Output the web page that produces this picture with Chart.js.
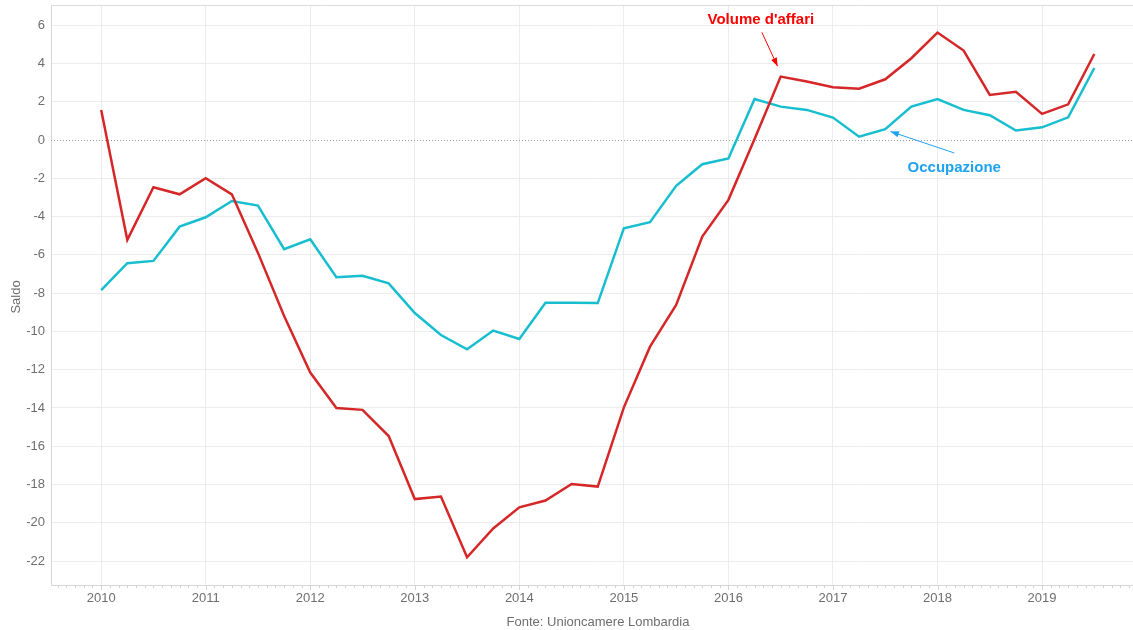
<!DOCTYPE html>
<html>
<head>
<meta charset="utf-8">
<script src="https://cdn.jsdelivr.net/npm/chart.js@4"></script>
<style>
  body { margin: 0; background: #fff; }
  canvas { display: block; }
</style>
</head>
<body>
<canvas id="chart" width="1133" height="630"></canvas>
<script>
// quarterly periods
const quarters = [
  '2010-Q1','2010-Q2','2010-Q3','2010-Q4',
  '2011-Q1','2011-Q2','2011-Q3','2011-Q4',
  '2012-Q1','2012-Q2','2012-Q3','2012-Q4',
  '2013-Q1','2013-Q2','2013-Q3','2013-Q4',
  '2014-Q1','2014-Q2','2014-Q3','2014-Q4',
  '2015-Q1','2015-Q2','2015-Q3','2015-Q4',
  '2016-Q1','2016-Q2','2016-Q3','2016-Q4',
  '2017-Q1','2017-Q2','2017-Q3','2017-Q4',
  '2018-Q1','2018-Q2','2018-Q3','2018-Q4',
  '2019-Q1','2019-Q2','2019-Q3'
];
const volumeAffari = [
  1.57, -5.22, -2.47, -2.84,
  -2.0, -2.84, -5.9, -9.2,
  -12.15, -14.0, -14.1, -15.47,
  -18.76, -18.63, -21.8, -20.3,
  -19.19, -18.84, -17.97, -18.11,
  -13.97, -10.8, -8.62, -5.05,
  -3.13, 0.05, 3.31, 3.05,
  2.75, 2.68, 3.17, 4.27,
  5.61, 4.67, 2.35, 2.52,
  1.36, 1.86, 4.49
];
const occupazione = [
  -7.84, -6.44, -6.32, -4.53,
  -4.04, -3.19, -3.43, -5.71,
  -5.19, -7.17, -7.1, -7.49,
  -9.04, -10.19, -10.94, -9.96,
  -10.4, -8.5, -8.5, -8.52,
  -4.61, -4.3, -2.4, -1.27,
  -0.97, 2.14, 1.74, 1.57,
  1.17, 0.17, 0.56, 1.74,
  2.14, 1.57, 1.29, 0.49,
  0.66, 1.18, 3.76
];
const yearTicks = [2010, 2011, 2012, 2013, 2014, 2015, 2016, 2017, 2018, 2019];
const yTicks = [6, 4, 2, 0, -2, -4, -6, -8, -10, -12, -14, -16, -18, -20, -22];

const quarterToX = (q) => {
  const [y, n] = q.split('-Q');
  return Number(y) + (Number(n) - 1) / 4;
};
const toPoints = (vals) => vals.map((v, i) => ({ x: quarterToX(quarters[i]), y: v }));

const FONT = "'Liberation Sans', Arial, sans-serif";
const GRID = '#ececec';
const TICK_COLOR = '#6e6e6e';

// labels with arrows, placed in data units
const notes = [
  { text: "Volume d'affari", color: '#ff0000', x: 2016.31, y: 6.25, from: [2016.32, 5.62], to: [2016.47, 3.85] },
  { text: 'Occupazione', color: '#1ea3f2', x: 2018.16, y: -1.46, from: [2018.16, -0.68], to: [2017.55, 0.44] }
];

const decorPlugin = {
  id: 'decor',
  beforeDatasetsDraw(chart) {
    const { ctx, chartArea: a, scales: { y } } = chart;
    ctx.save();
    // top frame line
    ctx.strokeStyle = '#dcdcdc';
    ctx.lineWidth = 1;
    ctx.beginPath();
    ctx.moveTo(a.left, a.top + 0.5);
    ctx.lineTo(a.right, a.top + 0.5);
    ctx.stroke();
    // dotted zero line
    const y0 = Math.round(y.getPixelForValue(0)) + 0.5;
    ctx.strokeStyle = '#9a9a9a';
    ctx.setLineDash([1, 2]);
    ctx.beginPath();
    ctx.moveTo(a.left, y0);
    ctx.lineTo(a.right, y0);
    ctx.stroke();
    ctx.restore();
  },
  afterDraw(chart) {
    const { ctx, chartArea: a, scales: { x, y } } = chart;
    ctx.save();
    // monthly minor ticks under the x axis
    ctx.strokeStyle = '#d4d4d4';
    ctx.lineWidth = 1;
    for (let m = Math.ceil(x.min * 12); m <= Math.floor(x.max * 12); m++) {
      const px = Math.round(x.getPixelForValue(m / 12)) + 0.5;
      const len = m % 12 === 0 ? 5 : 3;
      ctx.beginPath();
      ctx.moveTo(px, a.bottom);
      ctx.lineTo(px, a.bottom + len);
      ctx.stroke();
    }
    // axis titles
    ctx.fillStyle = TICK_COLOR;
    ctx.font = '13px ' + FONT;
    ctx.textAlign = 'center';
    ctx.textBaseline = 'middle';
    ctx.fillText('Fonte: Unioncamere Lombardia', (a.left + a.right) / 2 + 6, 622);
    ctx.save();
    ctx.translate(16, 297);
    ctx.rotate(-Math.PI / 2);
    ctx.fillText('Saldo', 0, 0);
    ctx.restore();
    // annotations
    notes.forEach(n => {
      ctx.fillStyle = n.color;
      ctx.strokeStyle = n.color;
      ctx.font = 'bold 15px ' + FONT;
      ctx.fillText(n.text, x.getPixelForValue(n.x), y.getPixelForValue(n.y));
      const x1 = x.getPixelForValue(n.from[0]), y1 = y.getPixelForValue(n.from[1]);
      const x2 = x.getPixelForValue(n.to[0]), y2 = y.getPixelForValue(n.to[1]);
      ctx.lineWidth = 1;
      ctx.beginPath();
      ctx.moveTo(x1, y1);
      ctx.lineTo(x2, y2);
      ctx.stroke();
      const ang = Math.atan2(y2 - y1, x2 - x1);
      ctx.beginPath();
      ctx.moveTo(x2, y2);
      ctx.lineTo(x2 - 9 * Math.cos(ang - 0.35), y2 - 9 * Math.sin(ang - 0.35));
      ctx.lineTo(x2 - 9 * Math.cos(ang + 0.35), y2 - 9 * Math.sin(ang + 0.35));
      ctx.closePath();
      ctx.fill();
    });
    ctx.restore();
  }
};

new Chart(document.getElementById('chart'), {
  type: 'line',
  data: {
    datasets: [
      {
        label: "Volume d'affari",
        data: toPoints(volumeAffari),
        borderColor: '#d62728',
        borderWidth: 2.5,
        pointRadius: 0,
        tension: 0
      },
      {
        label: 'Occupazione',
        data: toPoints(occupazione),
        borderColor: '#17becf',
        borderWidth: 2.5,
        pointRadius: 0,
        tension: 0
      }
    ]
  },
  options: {
    responsive: false,
    animation: false,
    layout: { padding: { top: 5, left: 0, right: 0, bottom: 0 } },
    plugins: {
      legend: { display: false },
      tooltip: { enabled: false }
    },
    scales: {
      x: {
        type: 'linear',
        min: 2009.52,
        max: 2019.87,
        afterBuildTicks: (s) => { s.ticks = yearTicks.map(v => ({ value: v })); },
        afterFit: (s) => { s.height = 45; s.paddingLeft = 0; s.paddingRight = 0; },
        grid: { color: GRID, drawTicks: false },
        border: { color: '#d6d6d6' },
        ticks: {
          color: TICK_COLOR,
          font: { family: FONT, size: 13 },
          padding: 6,
          maxRotation: 0,
          callback: (v) => String(v)
        }
      },
      y: {
        min: -23.25,
        max: 7.05,
        afterBuildTicks: (s) => { s.ticks = yTicks.map(v => ({ value: v })); },
        afterFit: (s) => { s.width = 51; s.paddingTop = 0; s.paddingBottom = 0; },
        grid: {
          color: (c) => (c.tick && c.tick.value === 0 ? 'rgba(0,0,0,0)' : GRID),
          drawTicks: false
        },
        border: { color: '#d6d6d6' },
        ticks: {
          color: TICK_COLOR,
          font: { family: FONT, size: 13 },
          padding: 6,
          callback: (v) => String(v)
        }
      }
    }
  },
  plugins: [decorPlugin]
});
</script>
</body>
</html>
